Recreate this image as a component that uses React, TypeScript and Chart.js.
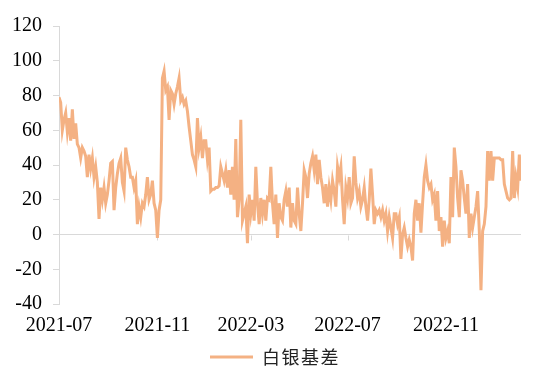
import React, { useEffect, useRef } from 'react';
import { Chart, registerables } from 'chart.js';

Chart.register(...registerables);

const seriesName = '白银基差';
const months = [
  '2021-07', '2021-08', '2021-09', '2021-10', '2021-11', '2021-12',
  '2022-01', '2022-02', '2022-03', '2022-04', '2022-05', '2022-06',
  '2022-07', '2022-08', '2022-09', '2022-10', '2022-11', '2022-12',
  '2023-01', '2023-02',
];
const tickMonths = ['2021-07', '2021-11', '2022-03', '2022-07', '2022-11'];

const v2107 = [79, 76, 60, 66, 70, 59, 67, 54, 72, 55, 64, 52, 50, 44, 50];
const v2108 = [48, 45, 33, 46, 38, 44, 33, 39, 30, 9, 27, 20, 27, 18];
const v2109 = [23, 31, 41, 42, 14, 27, 35, 41, 44, 30, 25, 50, 43, 39, 33];
const v2110 = [33, 27, 31, 6, 16, 10, 18, 16, 23, 33, 20, 23, 31, 18, 14];
const v2111 = [-2, 14, 20, 90, 94, 83, 85, 66, 83, 81, 75, 81, 85, 90];
const v2112 = [77, 79, 75, 77, 71, 62, 54, 46, 43, 39, 67, 50, 56, 44, 54];
const v2201 = [54, 43, 50, 25, 26, 26, 27, 27, 28, 39, 35, 31, 37, 27];
const v2202 = [37, 23, 39, 20, 55, 10, 20, 66, 8, 12, 16, -5, 23];
const v2203 = [12, 20, 8, 39, 18, 6, 21, 12, 20, 8, 21, 20, 39, 18, 6];
const v2204 = [23, -2, 18, 10, 8, 20, 25, 16, 27, 4, 18, 8, 6, 27];
const v2205 = [12, 2, 18, 37, 33, 21, 35, 41, 45, 37, 46, 29, 43, 33, 27];
const v2206 = [18, 29, 16, 27, 20, 31, 25, 16, 39, 33, 39, 20, 6, 27];
const v2207 = [21, 33, 18, 21, 45, 30, 21, 25, 16, 20, 27, 16, 8, 20, 38];
const v2208 = [23, 6, 14, 12, 14, 10, 14, 8, 12, 2, 10, 4, -2, 12];
const v2209 = [12, 6, 10, -14, 0, 4, -2, -7, -3, -7, -15, 12, 20, 8, 18];
const v2210 = [1, 18, 33, 40, 31, 27, 29, 20, 23, 8, 25, 2, 10, -7, 8];
const v2211 = [-2, 2, -5, 33, 10, 50, 39, 21, 10, 37, 31, 21, 12, 29];
const v2212 = [-2, 12, 4, 10, 16, 25, 2, -32, 2, 6, 16, 48, 31, 48];
const v2301 = [31, 44, 44, 44, 44, 43, 43, 29, 25, 21, 20, 21, 48, 21, 33];
const v2302 = [27, 46, 31];

const monthValues = [
  v2107, v2108, v2109, v2110, v2111, v2112, v2201, v2202, v2203, v2204,
  v2205, v2206, v2207, v2208, v2209, v2210, v2211, v2212, v2301, v2302,
];

const LINE_COLOR = '#F4B183';
const AXIS_COLOR = '#d9d9d9';
const tickFont = { family: '"Liberation Serif", "Times New Roman", serif', size: 20 };

export default function App() {
  const ref = useRef<HTMLCanvasElement>(null);

  useEffect(() => {
    const values = monthValues.flat();
    const monthStart: number[] = [];
    let acc = 0;
    monthValues.forEach((a) => {
      monthStart.push(acc);
      acc += a.length;
    });
    const tickIdx = tickMonths.map((m) => monthStart[months.indexOf(m)]);
    const labelAt = new Map<number, string>(tickIdx.map((idx, i) => [idx, tickMonths[i]]));

    const zeroTicks = {
      id: 'zeroTicks',
      beforeDatasetsDraw(chart: any) {
        const { ctx, scales } = chart;
        const x = scales.x;
        const y0 = Math.round(scales.y.getPixelForValue(0)) + 0.5;
        ctx.save();
        ctx.strokeStyle = AXIS_COLOR;
        ctx.lineWidth = 1;
        x.ticks.forEach((t: any) => {
          const px = Math.round(x.getPixelForValue(t.value)) + 0.5;
          ctx.beginPath();
          ctx.moveTo(px, y0);
          ctx.lineTo(px, y0 + 5);
          ctx.stroke();
        });
        ctx.restore();
      },
    };

    const legendPlugin = {
      id: 'bottomLegend',
      afterDraw(chart: any) {
        const { ctx } = chart;
        ctx.save();
        ctx.font = '18px "Noto Sans CJK SC", sans-serif';
        try { (ctx as any).letterSpacing = '1.5px'; } catch (e) { /* ignore */ }
        const tw = ctx.measureText(seriesName).width;
        const lineW = 43;
        const gap = 9;
        const total = lineW + gap + tw;
        const startX = chart.width / 2 - total / 2;
        const yc = chart.height - 23;
        ctx.strokeStyle = LINE_COLOR;
        ctx.lineWidth = 3;
        ctx.beginPath();
        ctx.moveTo(startX, yc);
        ctx.lineTo(startX + lineW, yc);
        ctx.stroke();
        ctx.fillStyle = '#222';
        ctx.textBaseline = 'middle';
        ctx.textAlign = 'left';
        ctx.fillText(seriesName, startX + lineW + gap, yc);
        ctx.restore();
      },
    };

    const chart = new Chart(ref.current as HTMLCanvasElement, {
      type: 'line',
      data: {
        datasets: [
          {
            label: seriesName,
            data: values.map((y, i) => ({ x: i, y })),
            borderColor: LINE_COLOR,
            backgroundColor: LINE_COLOR,
            borderWidth: 3,
            pointRadius: 0,
            tension: 0,
            fill: false,
          },
        ],
      },
      options: {
        animation: false,
        responsive: false,
        layout: { padding: { left: 0, right: 29, top: 26, bottom: 36 } },
        plugins: { legend: { display: false }, tooltip: { enabled: false } },
        scales: {
          x: {
            type: 'linear',
            min: 0,
            max: values.length - 1,
            afterBuildTicks: (s: any) => {
              s.ticks = tickIdx.map((v) => ({ value: v }));
            },
            afterFit: (s: any) => {
              s.height = 40;
            },
            grid: { display: false, drawTicks: false },
            border: { display: false },
            ticks: {
              autoSkip: false,
              maxRotation: 0,
              padding: 10,
              color: '#000',
              font: tickFont,
              callback: (v: any) => labelAt.get(Number(v)) ?? '',
            },
          },
          y: {
            min: -40,
            max: 120,
            afterFit: (s: any) => {
              s.width = 59;
            },
            ticks: { stepSize: 20, padding: 11, color: '#000', font: tickFont },
            grid: {
              color: (c: any) => (c.tick && c.tick.value === 0 ? AXIS_COLOR : 'rgba(0,0,0,0)'),
              tickColor: AXIS_COLOR,
              tickLength: 6,
              lineWidth: 1,
            },
            border: { display: true, color: AXIS_COLOR },
          },
        },
      } as any,
      plugins: [zeroTicks, legendPlugin],
    });
    return () => chart.destroy();
  }, []);

  return (
    <div style={{ position: 'fixed', left: 0, top: 0, width: 550, height: 380, background: '#fff' }}>
      <canvas ref={ref} width={550} height={380} style={{ display: 'block' }} />
    </div>
  );
}
